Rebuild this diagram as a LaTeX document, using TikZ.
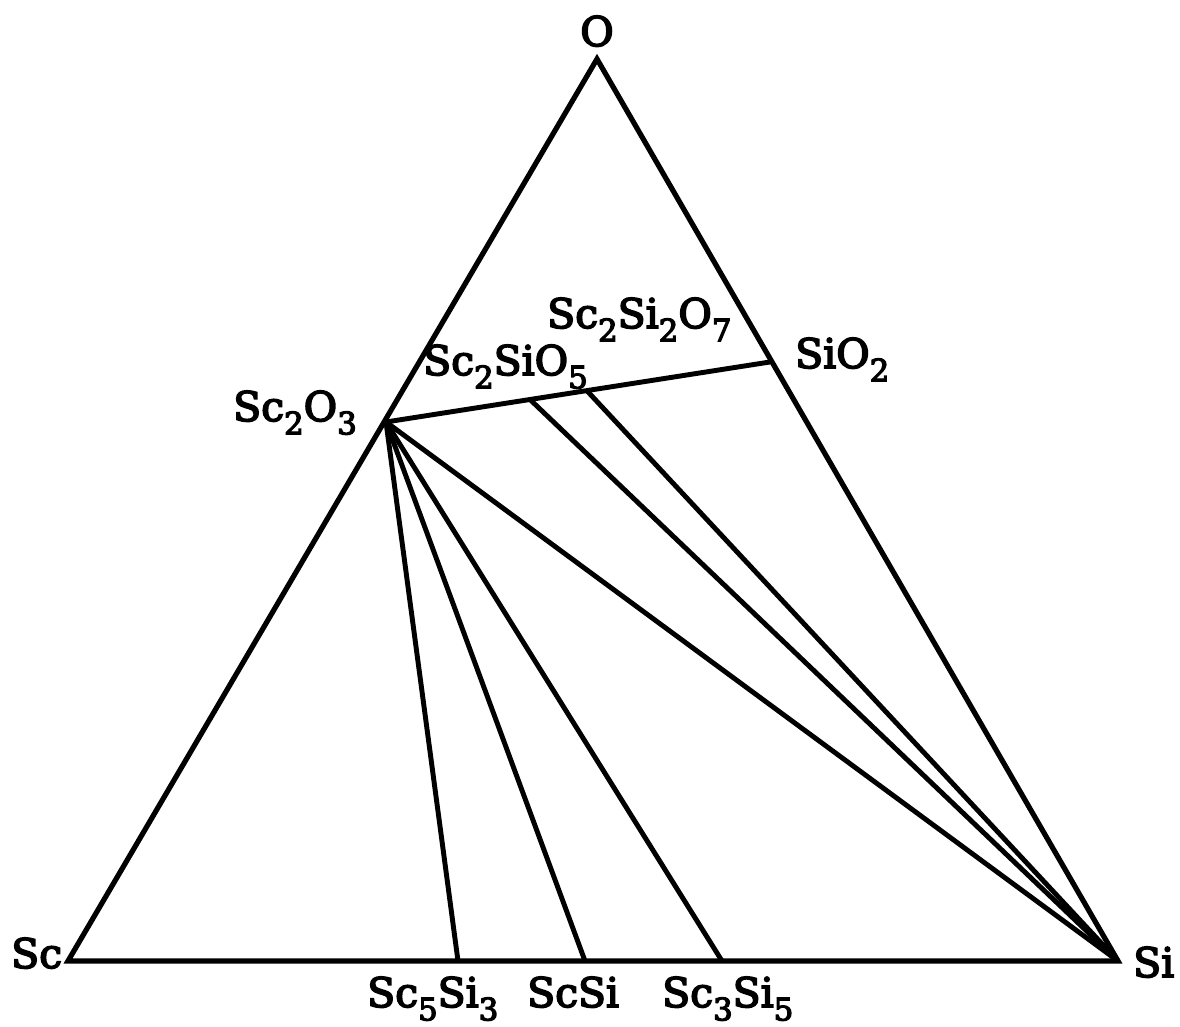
\documentclass[tikz,border=0pt]{standalone}
\usepackage{fontspec}
\setmainfont{DejaVu Serif}
\newfontfamily\labfont{DejaVu Serif}[FakeBold=4]
\usetikzlibrary{positioning, calc}
\newcommand{\chsub}[1]{\raisebox{-9.5pt}{\fontsize{22}{22}\selectfont #1}}
\tikzset{
  edge/.style = {line width=3.7pt, line join=miter, draw=black},
  tie/.style  = {line width=3.5pt, draw=black},
  lab/.style  = {inner sep=0pt, font=\labfont\fontsize{29}{31}\selectfont},
}

\begin{document}
\begin{tikzpicture}[x=0.025cm, y=0.025cm]
\useasboundingbox (0,0) rectangle (1180,1027);

% corners of the triangle
\coordinate (O)  at (597,968);
\coordinate (Sc) at (68,66);
\coordinate (Si) at (1118,66);

% oxides on the Sc--O and Si--O sides
\coordinate (sc2o3) at (386,605);
\coordinate (sio2)  at (770,665);
% silicates on the Sc2O3--SiO2 join
\coordinate (sc2sio5)   at ($(sc2o3)!0.375!(sio2)$);
\coordinate (sc2si2o7)  at ($(sc2o3)!0.523!(sio2)$);
% silicides on the Sc--Si side
\coordinate (sc5si3) at (458,66);
\coordinate (scsi)   at (585,66);
\coordinate (sc3si5) at (722,66);

\draw [edge] (Sc) -- (O) -- (Si) -- cycle;

\draw [tie] (sc2o3) -- (sio2);
\draw [tie] (sc2o3) -- (sc5si3);
\draw [tie] (sc2o3) -- (scsi);
\draw [tie] (sc2o3) -- (sc3si5);
\draw [tie] (sc2o3) -- (Si);
\draw [tie] (sc2sio5) -- (Si);
\draw [tie] (sc2si2o7) -- (Si);

% labels
\node (lO)  [lab, anchor=base] at (597,981) {O};
\node (lSc) [lab, anchor=base west] at (11,59) {Sc};
\node (lSi) [lab, anchor=base west] at (1133,50) {Si};
\node (lsc2o3)    [lab, anchor=base west] at (233,606) {Sc\chsub{2}O\chsub{3}};
\node (lsc2sio5)  [lab, anchor=base west] at (423,652) {Sc\chsub{2}SiO\chsub{5}};
\node (lsc2si2o7) [lab, anchor=base west] at (547,699) {Sc\chsub{2}Si\chsub{2}O\chsub{7}};
\node (lsio2)     [lab, anchor=base west] at (795,659) {SiO\chsub{2}};
\node (lsc5si3)   [lab, anchor=base west] at (367,20) {Sc\chsub{5}Si\chsub{3}};
\node (lscsi)     [lab, anchor=base west] at (527,20) {ScSi};
\node (lsc3si5)   [lab, anchor=base west] at (662,20) {Sc\chsub{3}Si\chsub{5}};

\end{tikzpicture}
\end{document}
